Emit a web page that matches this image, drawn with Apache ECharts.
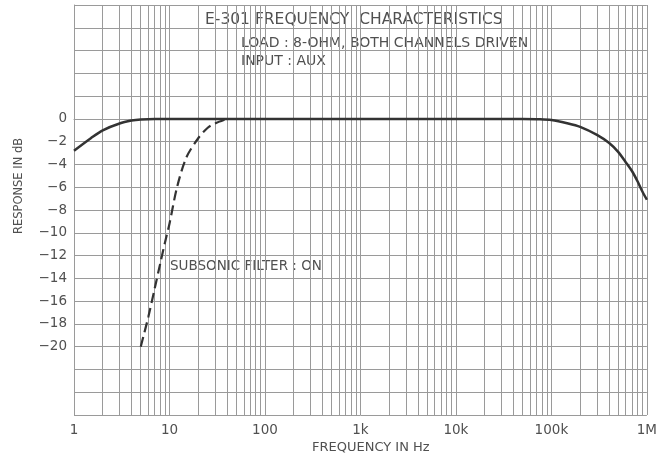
<!DOCTYPE html>
<html>
<head>
<meta charset="utf-8">
<script src="https://cdn.jsdelivr.net/npm/echarts@6/dist/echarts.min.js"></script>
<style>
  html, body { margin: 0; padding: 0; background: #fff; }
  #chart { width: 660px; height: 460px; }
</style>
</head>
<body>
<div id="chart"></div>
<script>
// normal response, filter off
var flatFreq = [1, 1.5, 2, 3, 4, 5, 7, 10, 100, 1000, 10000, 50000, 70000, 100000, 150000, 200000, 300000, 400000, 500000, 600000, 700000, 800000, 900000, 1000000];
var flatDb   = [-2.8, -1.7, -1.0, -0.4, -0.15, -0.05, 0, 0, 0, 0, 0, 0, -0.03, -0.1, -0.4, -0.7, -1.4, -2.1, -2.9, -3.8, -4.6, -5.5, -6.4, -7.1];

// subsonic filter on
var subFreq = [5, 6, 7, 8, 9, 10, 12, 15, 20, 25, 30, 40];
var subDb   = [-20, -17.4, -14.9, -12.7, -10.8, -9.2, -6.0, -3.4, -1.7, -0.8, -0.4, 0];

var xTickLabels = { 1: '1', 10: '10', 100: '100', 1000: '1k', 10000: '10k', 100000: '100k', 1000000: '1M' };

var gridColor = '#9a9a9a';
var textColor = '#505050';
var font = '"DejaVu Sans", Verdana, sans-serif';

function pairs(xs, ys) {
    return xs.map(function (x, i) { return [x, ys[i]]; });
}

// vertical lines at 2..9 of every decade
var minorLines = [];
for (var d = 1; d < 1000000; d *= 10) {
    for (var k = 2; k <= 9; k++) {
        minorLines.push({ xAxis: k * d });
    }
}

var myChart = echarts.init(document.getElementById('chart'));
var option = {
    backgroundColor: '#fff',
    animation: false,
    textStyle: { fontFamily: font },
    grid: { left: 74, right: 12, top: 5, bottom: 45 },
    xAxis: {
        type: 'log',
        logBase: 10,
        min: 1,
        max: 1000000,
        axisLine: { lineStyle: { color: gridColor, width: 1 } },
        axisTick: { show: false },
        axisLabel: {
            color: textColor,
            fontSize: 13.5,
            fontFamily: font,
            margin: 8,
            formatter: function (v) { return xTickLabels[Math.round(v)] || ''; }
        },
        splitLine: { show: true, lineStyle: { color: gridColor, width: 1 } }
    },
    yAxis: {
        type: 'value',
        min: -26,
        max: 10,
        interval: 2,
        axisLine: { show: true, lineStyle: { color: gridColor, width: 1 } },
        axisTick: { show: false },
        axisLabel: {
            color: textColor,
            fontSize: 13.5,
            fontFamily: font,
            margin: 7,
            formatter: function (v) {
                if (v > 0 || v < -20) return '';
                return v < 0 ? '\u2212' + Math.abs(v) : String(v);
            }
        },
        splitLine: { show: true, lineStyle: { color: gridColor, width: 1 } }
    },
    graphic: [
        { type: 'text', left: 205, top: 12, style: { text: 'E-301 FREQUENCY  CHARACTERISTICS', fill: textColor, font: '15.5px ' + font } },
        { type: 'text', left: 241, top: 36, style: { text: 'LOAD : 8-OHM, BOTH CHANNELS DRIVEN', fill: textColor, font: '14px ' + font } },
        { type: 'text', left: 241, top: 54, style: { text: 'INPUT : AUX', fill: textColor, font: '14px ' + font } },
        { type: 'text', left: 170, top: 259, style: { text: 'SUBSONIC FILTER : ON', fill: textColor, font: '13.5px ' + font } },
        { type: 'text', left: 312, top: 441, style: { text: 'FREQUENCY IN Hz', fill: textColor, font: '13px ' + font } },
        { type: 'text', x: 19, y: 186, rotation: Math.PI / 2, style: { text: 'RESPONSE IN dB', fill: textColor, align: 'center', verticalAlign: 'middle', font: '11.5px ' + font } }
    ],
    series: [
        {
            name: 'Filter off',
            type: 'line',
            data: pairs(flatFreq, flatDb),
            smooth: 0.3,
            showSymbol: false,
            lineStyle: { color: '#333', width: 2.5 },
            z: 3,
            markLine: {
                silent: true,
                symbol: 'none',
                label: { show: false },
                lineStyle: { color: gridColor, width: 1, type: 'solid' },
                data: minorLines,
                z: 1
            }
        },
        {
            name: 'Subsonic filter on',
            type: 'line',
            data: pairs(subFreq, subDb),
            smooth: 0.3,
            showSymbol: false,
            lineStyle: { color: '#333', width: 2.2, type: [10, 5] },
            z: 3
        }
    ]
};
myChart.setOption(option);
window.addEventListener('resize', function () {
    myChart.resize();
});
</script>
</body>
</html>
